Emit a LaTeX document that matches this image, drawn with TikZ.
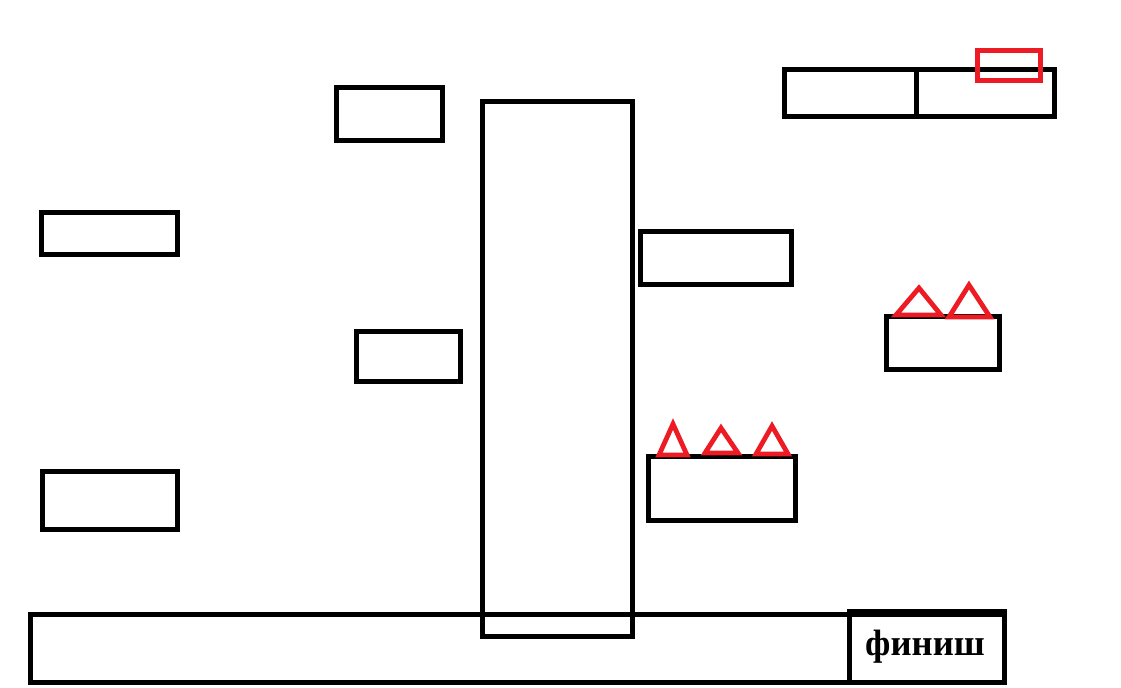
\documentclass[tikz,border=0pt]{standalone}
\usepackage{fontspec}
\setmainfont{Liberation Serif}
\begin{document}
\begin{tikzpicture}[x=0.75pt,y=-0.75pt,
  blk/.style={draw=black,line width=3.75pt,line join=miter},
  spike/.style={draw=paintred,line width=3.6pt,line join=miter},
  lbl/.style={font=\bfseries\fontsize{27.5}{32}\selectfont,inner sep=0pt,anchor=base}]
\definecolor{paintred}{HTML}{ED1C24}
\useasboundingbox[fill=white] (0,0) rectangle (1121,687);
% platforms
\draw[blk] (336.5,87.5) rectangle (442.5,140.5);
\draw[blk] (41.5,212.5) rectangle (177.5,254.5);
\draw[blk] (356.5,331.5) rectangle (460.5,381.5);
\draw[blk] (42.5,471.5) rectangle (177.5,529.5);
\draw[blk] (640.5,231.5) rectangle (791.5,284.5);
\draw[blk] (886.5,316.5) rectangle (999,369.5);
\draw[blk] (648,456) rectangle (795,520);
% top right double block
\draw[blk] (784,69.5) rectangle (1054.5,116.5);
\draw[blk] (916.5,69.5) -- (916.5,116.5);
\draw[spike] (977.5,50.5) rectangle (1040.5,80.5);
% floor and finish
\draw[blk] (30,614.5) rectangle (1004,682.5);
\draw[blk] (849.5,611) rectangle (1004,682.5);
\node[lbl] (finish) at (925,655) {финиш};
% tall wall
\draw[blk] (482.5,101.5) rectangle (632.5,636.5);
% spikes
\draw[spike] (659,455) -- (673,424) -- (687,455) -- cycle;
\draw[spike] (705,453) -- (721,428) -- (738,453) -- cycle;
\draw[spike] (756,454) -- (772,426) -- (788,454) -- cycle;
\draw[spike] (896,315) -- (919,288) -- (941,315) -- cycle;
\draw[spike] (949,317) -- (969,285) -- (990,317) -- cycle;
\end{tikzpicture}
\end{document}
